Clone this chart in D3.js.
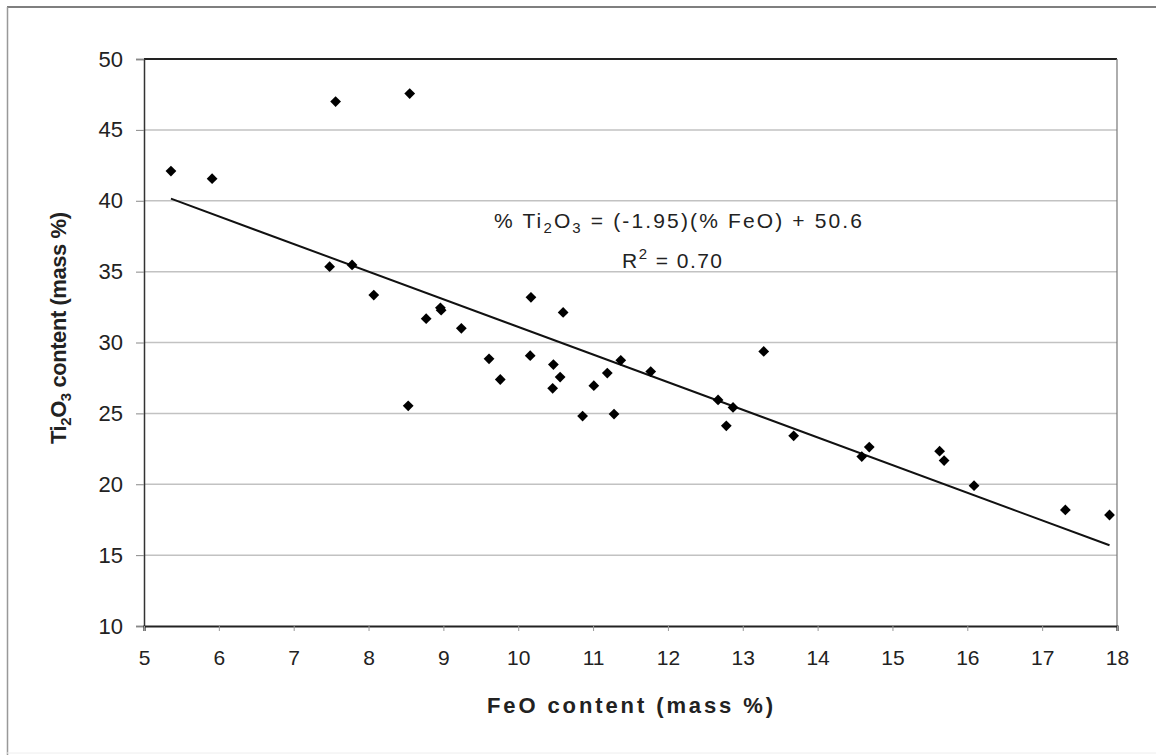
<!DOCTYPE html>
<html>
<head>
<meta charset="utf-8">
<script src="https://cdn.jsdelivr.net/npm/d3@7"></script>
<style>
  html, body { margin: 0; padding: 0; background: #fff; }
  svg { display: block; font-family: "Liberation Sans", Arial, sans-serif; }
</style>
</head>
<body>
<div id="chart"></div>
<script>
// FeO vs Ti2O3 measurements (mass %)
const feo = [5.36, 5.91, 7.56, 8.55, 7.48, 7.78, 8.07, 8.77, 8.96, 8.97, 9.24, 9.61, 8.53, 9.76,
  10.17, 10.16, 10.47, 10.46, 10.56, 10.60, 10.86, 11.01, 11.19, 11.28, 11.37, 11.77, 13.28,
  12.67, 12.87, 12.78, 13.68, 14.59, 14.69, 15.63, 15.69, 16.09, 17.31, 17.90];
const ti2o3 = [42.09, 41.56, 47.0, 47.56, 35.35, 35.47, 33.35, 31.68, 32.45, 32.28, 31.0, 28.85, 25.53, 27.39,
  33.19, 29.07, 28.44, 26.77, 27.56, 32.12, 24.81, 26.95, 27.84, 24.95, 28.74, 27.95, 29.37,
  25.95, 25.42, 24.12, 23.42, 21.95, 22.62, 22.33, 21.67, 19.9, 18.19, 17.83];

const xTicks = [5, 6, 7, 8, 9, 10, 11, 12, 13, 14, 15, 16, 17, 18];
const yTicks = [10, 15, 20, 25, 30, 35, 40, 45, 50];

// linear fit printed on the chart
const fitSlope = -1.95;
const fitIntercept = 50.6;

const W = 1156, H = 755;
const svg = d3.select("#chart").append("svg").attr("width", W).attr("height", H);

const x = d3.scaleLinear().domain([5, 18]).range([144, 1117]);
const y = d3.scaleLinear().domain([10, 50]).range([626, 59]);

// scanned outer frame
svg.append("line").attr("x1", 7).attr("x2", W).attr("y1", 7).attr("y2", 7)
  .attr("stroke", "#555").attr("stroke-width", 1.5);
svg.append("line").attr("x1", 7.5).attr("x2", 7.5).attr("y1", 7).attr("y2", H)
  .attr("stroke", "#999").attr("stroke-width", 1.5);
svg.append("line").attr("x1", 7).attr("x2", W).attr("y1", 753).attr("y2", 753)
  .attr("stroke", "#eee").attr("stroke-width", 1);

// gridlines
svg.append("g").selectAll("line")
  .data(yTicks.filter(v => v > 10 && v < 50))
  .join("line")
  .attr("x1", x(5)).attr("x2", x(18))
  .attr("y1", d => y(d)).attr("y2", d => y(d))
  .attr("stroke", "#c2c2c2").attr("stroke-width", 1.5);

// plot frame
svg.append("line").attr("x1", x(5)).attr("x2", x(18)).attr("y1", y(50)).attr("y2", y(50))
  .attr("stroke", "#222").attr("stroke-width", 2);
svg.append("line").attr("x1", x(18)).attr("x2", x(18)).attr("y1", y(50)).attr("y2", y(10))
  .attr("stroke", "#777").attr("stroke-width", 1.2);

// axes
const yAxis = d3.axisLeft(y).tickValues(yTicks).tickSize(8).tickPadding(13);
const gy = svg.append("g").attr("transform", `translate(${x(5)},0)`).call(yAxis);
gy.select(".domain").attr("stroke", "#333").attr("stroke-width", 1.5);
gy.selectAll(".tick line").attr("stroke", "#888");
gy.selectAll(".tick text").attr("font-size", 22).attr("fill", "#222")
  .attr("font-family", "Liberation Sans, Arial, sans-serif");

const xAxis = d3.axisBottom(x).tickValues(xTicks).tickSize(5).tickPadding(19);
const gx = svg.append("g").attr("transform", `translate(0,${y(10)})`).call(xAxis);
gx.select(".domain").attr("stroke", "#222").attr("stroke-width", 2.2);
gx.selectAll(".tick line").attr("stroke", "#999");
gx.selectAll(".tick text").attr("font-size", 21).attr("fill", "#222")
  .attr("font-family", "Liberation Sans, Arial, sans-serif");

// trend line across the data range
const xMin = d3.min(feo), xMax = d3.max(feo);
svg.append("line")
  .attr("x1", x(xMin)).attr("y1", y(fitSlope * xMin + fitIntercept))
  .attr("x2", x(xMax)).attr("y2", y(fitSlope * xMax + fitIntercept))
  .attr("stroke", "#111").attr("stroke-width", 2);

// points (diamonds)
const diamond = d3.symbol().type(d3.symbolSquare).size(58);
svg.append("g").selectAll("path")
  .data(feo.map((v, i) => [v, ti2o3[i]]))
  .join("path")
  .attr("d", diamond)
  .attr("transform", d => `translate(${x(d[0])},${y(d[1])}) rotate(45)`)
  .attr("fill", "#000");

// equation annotation
const eq = svg.append("text").attr("x", 678).attr("y", 228).attr("text-anchor", "middle")
  .attr("font-size", 21).attr("fill", "#222")
  .attr("textLength", 368).attr("lengthAdjust", "spacing");
eq.append("tspan").text("% Ti");
eq.append("tspan").attr("font-size", 15).attr("dy", 5).text("2");
eq.append("tspan").attr("dy", -5).text("O");
eq.append("tspan").attr("font-size", 15).attr("dy", 5).text("3");
eq.append("tspan").attr("dy", -5).text(" = (-1.95)(% FeO) + 50.6");

const r2 = svg.append("text").attr("x", 672).attr("y", 268).attr("text-anchor", "middle")
  .attr("font-size", 21).attr("fill", "#222")
  .attr("textLength", 100).attr("lengthAdjust", "spacing");
r2.append("tspan").text("R");
r2.append("tspan").attr("font-size", 15).attr("dy", -9).text("2");
r2.append("tspan").attr("dy", 9).text(" = 0.70");

// axis titles
svg.append("text").attr("x", 630).attr("y", 713).attr("text-anchor", "middle")
  .attr("font-size", 22).attr("font-weight", "bold").attr("fill", "#222")
  .attr("textLength", 286).attr("lengthAdjust", "spacing")
  .text("FeO content (mass %)");

const yl = svg.append("text")
  .attr("transform", "translate(66,328) rotate(-90)")
  .attr("text-anchor", "middle")
  .attr("font-size", 22).attr("font-weight", "bold").attr("fill", "#222")
  .attr("textLength", 232).attr("lengthAdjust", "spacing");
yl.append("tspan").text("Ti");
yl.append("tspan").attr("font-size", 15).attr("dy", 5).text("2");
yl.append("tspan").attr("dy", -5).text("O");
yl.append("tspan").attr("font-size", 15).attr("dy", 5).text("3");
yl.append("tspan").attr("dy", -5).text(" content (mass %)");
</script>
</body>
</html>
